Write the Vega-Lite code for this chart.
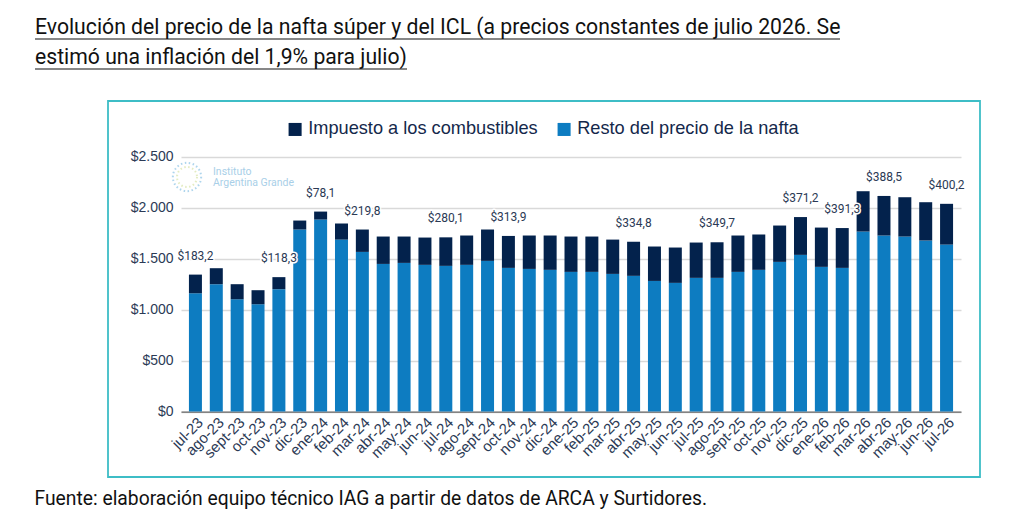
{"$schema":"https://vega.github.io/schema/vega-lite/v6.json","width":780,"height":254.6,"autosize":{"type":"none"},"padding":{"left":181,"top":157,"right":48,"bottom":107},"background":"#ffffff",
"title":{"text":["Evolución del precio de la nafta súper y del ICL (a precios constantes de julio 2026. Se","estimó una inflación del 1,9% para julio)"],"anchor":"start","frame":"group","dx":-146,"dy":63,"offset":33,"font":"Roboto","fontSize":21.2,"fontWeight":400,"color":"#111111","lineHeight":30},
"datasets":{
"barras":[
{"mes":"jul-23","serie":"Resto del precio de la nafta","valor":1162,"orden":1},{"mes":"jul-23","serie":"Impuesto a los combustibles","valor":183.2,"orden":2},
{"mes":"ago-23","serie":"Resto del precio de la nafta","valor":1251,"orden":1},{"mes":"ago-23","serie":"Impuesto a los combustibles","valor":157,"orden":2},
{"mes":"sept-23","serie":"Resto del precio de la nafta","valor":1103,"orden":1},{"mes":"sept-23","serie":"Impuesto a los combustibles","valor":148,"orden":2},
{"mes":"oct-23","serie":"Resto del precio de la nafta","valor":1054,"orden":1},{"mes":"oct-23","serie":"Impuesto a los combustibles","valor":138,"orden":2},
{"mes":"nov-23","serie":"Resto del precio de la nafta","valor":1202,"orden":1},{"mes":"nov-23","serie":"Impuesto a los combustibles","valor":118.3,"orden":2},
{"mes":"dic-23","serie":"Resto del precio de la nafta","valor":1788,"orden":1},{"mes":"dic-23","serie":"Impuesto a los combustibles","valor":88,"orden":2},
{"mes":"ene-24","serie":"Resto del precio de la nafta","valor":1886,"orden":1},{"mes":"ene-24","serie":"Impuesto a los combustibles","valor":78.1,"orden":2},
{"mes":"feb-24","serie":"Resto del precio de la nafta","valor":1689,"orden":1},{"mes":"feb-24","serie":"Impuesto a los combustibles","valor":158,"orden":2},
{"mes":"mar-24","serie":"Resto del precio de la nafta","valor":1568,"orden":1},{"mes":"mar-24","serie":"Impuesto a los combustibles","valor":219.8,"orden":2},
{"mes":"abr-24","serie":"Resto del precio de la nafta","valor":1450,"orden":1},{"mes":"abr-24","serie":"Impuesto a los combustibles","valor":269,"orden":2},
{"mes":"may-24","serie":"Resto del precio de la nafta","valor":1460,"orden":1},{"mes":"may-24","serie":"Impuesto a los combustibles","valor":259,"orden":2},
{"mes":"jun-24","serie":"Resto del precio de la nafta","valor":1441,"orden":1},{"mes":"jun-24","serie":"Impuesto a los combustibles","valor":268,"orden":2},
{"mes":"jul-24","serie":"Resto del precio de la nafta","valor":1431,"orden":1},{"mes":"jul-24","serie":"Impuesto a los combustibles","valor":280.1,"orden":2},
{"mes":"ago-24","serie":"Resto del precio de la nafta","valor":1441,"orden":1},{"mes":"ago-24","serie":"Impuesto a los combustibles","valor":288,"orden":2},
{"mes":"sept-24","serie":"Resto del precio de la nafta","valor":1480,"orden":1},{"mes":"sept-24","serie":"Impuesto a los combustibles","valor":308,"orden":2},
{"mes":"oct-24","serie":"Resto del precio de la nafta","valor":1411,"orden":1},{"mes":"oct-24","serie":"Impuesto a los combustibles","valor":313.9,"orden":2},
{"mes":"nov-24","serie":"Resto del precio de la nafta","valor":1401,"orden":1},{"mes":"nov-24","serie":"Impuesto a los combustibles","valor":328,"orden":2},
{"mes":"dic-24","serie":"Resto del precio de la nafta","valor":1392,"orden":1},{"mes":"dic-24","serie":"Impuesto a los combustibles","valor":337,"orden":2},
{"mes":"ene-25","serie":"Resto del precio de la nafta","valor":1372,"orden":1},{"mes":"ene-25","serie":"Impuesto a los combustibles","valor":347,"orden":2},
{"mes":"feb-25","serie":"Resto del precio de la nafta","valor":1372,"orden":1},{"mes":"feb-25","serie":"Impuesto a los combustibles","valor":347,"orden":2},
{"mes":"mar-25","serie":"Resto del precio de la nafta","valor":1352,"orden":1},{"mes":"mar-25","serie":"Impuesto a los combustibles","valor":337,"orden":2},
{"mes":"abr-25","serie":"Resto del precio de la nafta","valor":1333,"orden":1},{"mes":"abr-25","serie":"Impuesto a los combustibles","valor":334.8,"orden":2},
{"mes":"may-25","serie":"Resto del precio de la nafta","valor":1283,"orden":1},{"mes":"may-25","serie":"Impuesto a los combustibles","valor":338,"orden":2},
{"mes":"jun-25","serie":"Resto del precio de la nafta","valor":1264,"orden":1},{"mes":"jun-25","serie":"Impuesto a los combustibles","valor":347,"orden":2},
{"mes":"jul-25","serie":"Resto del precio de la nafta","valor":1313,"orden":1},{"mes":"jul-25","serie":"Impuesto a los combustibles","valor":347,"orden":2},
{"mes":"ago-25","serie":"Resto del precio de la nafta","valor":1313,"orden":1},{"mes":"ago-25","serie":"Impuesto a los combustibles","valor":349.7,"orden":2},
{"mes":"sept-25","serie":"Resto del precio de la nafta","valor":1372,"orden":1},{"mes":"sept-25","serie":"Impuesto a los combustibles","valor":357,"orden":2},
{"mes":"oct-25","serie":"Resto del precio de la nafta","valor":1392,"orden":1},{"mes":"oct-25","serie":"Impuesto a los combustibles","valor":347,"orden":2},
{"mes":"nov-25","serie":"Resto del precio de la nafta","valor":1470,"orden":1},{"mes":"nov-25","serie":"Impuesto a los combustibles","valor":357,"orden":2},
{"mes":"dic-25","serie":"Resto del precio de la nafta","valor":1539,"orden":1},{"mes":"dic-25","serie":"Impuesto a los combustibles","valor":371.2,"orden":2},
{"mes":"ene-26","serie":"Resto del precio de la nafta","valor":1421,"orden":1},{"mes":"ene-26","serie":"Impuesto a los combustibles","valor":386,"orden":2},
{"mes":"feb-26","serie":"Resto del precio de la nafta","valor":1411,"orden":1},{"mes":"feb-26","serie":"Impuesto a los combustibles","valor":391.3,"orden":2},
{"mes":"mar-26","serie":"Resto del precio de la nafta","valor":1768,"orden":1},{"mes":"mar-26","serie":"Impuesto a los combustibles","valor":396,"orden":2},
{"mes":"abr-26","serie":"Resto del precio de la nafta","valor":1729,"orden":1},{"mes":"abr-26","serie":"Impuesto a los combustibles","valor":388.5,"orden":2},
{"mes":"may-26","serie":"Resto del precio de la nafta","valor":1719,"orden":1},{"mes":"may-26","serie":"Impuesto a los combustibles","valor":386,"orden":2},
{"mes":"jun-26","serie":"Resto del precio de la nafta","valor":1680,"orden":1},{"mes":"jun-26","serie":"Impuesto a los combustibles","valor":376,"orden":2},
{"mes":"jul-26","serie":"Resto del precio de la nafta","valor":1640,"orden":1},{"mes":"jul-26","serie":"Impuesto a los combustibles","valor":400.2,"orden":2}
],
"etiquetas":[
{"mes":"jul-23","total":1345.2,"etiqueta":"$183,2"},{"mes":"nov-23","total":1320.3,"etiqueta":"$118,3"},{"mes":"ene-24","total":1964.1,"etiqueta":"$78,1"},{"mes":"mar-24","total":1787.8,"etiqueta":"$219,8"},{"mes":"jul-24","total":1711.1,"etiqueta":"$280,1"},{"mes":"oct-24","total":1724.9,"etiqueta":"$313,9"},{"mes":"abr-25","total":1667.8,"etiqueta":"$334,8"},{"mes":"ago-25","total":1662.7,"etiqueta":"$349,7"},{"mes":"dic-25","total":1910.2,"etiqueta":"$371,2"},{"mes":"feb-26","total":1802.3,"etiqueta":"$391,3"},{"mes":"abr-26","total":2117.5,"etiqueta":"$388,5"},{"mes":"jul-26","total":2040.2,"etiqueta":"$400,2"}
],
"nota":[{"logo":"Instituto"}]
},
"layer":[
{"data":{"name":"nota"},"mark":{"type":"rect","fill":null,"stroke":"#3dbdc6","strokeWidth":1.8},"encoding":{"x":{"value":-73},"x2":{"value":799},"y":{"value":-56},"y2":{"value":320}}},
{"data":{"name":"barras"},"mark":{"type":"bar"},
"encoding":{
"x":{"field":"mes","type":"nominal","sort":null,"scale":{"paddingInner":0.377,"paddingOuter":0.38},
"axis":{"title":"Fuente: elaboración equipo técnico IAG a partir de datos de ARCA y Surtidores.","titleFont":"Roboto","titleFontSize":19.3,"titleFontWeight":400,"titleColor":"#111111","titleAnchor":"start","titleAlign":"left","titleBaseline":"middle","titleX":-147,"titleY":87,"labelAngle":-45,"labelFont":"Liberation Sans","labelFontSize":15,"labelColor":"#2b3a55","labelPadding":3,"ticks":false,"domainColor":"#666666","domainWidth":1.2,"labelOverlap":false}},
"y":{"field":"valor","type":"quantitative","stack":"zero","scale":{"domain":[0,2500],"nice":false},
"axis":{"title":null,"values":[0,500,1000,1500,2000,2500],"labelExpr":"'$' + replace(format(datum.value, ',.0f'), ',', '.')","labelFont":"Liberation Sans","labelFontSize":14,"labelColor":"#2b3a55","labelPadding":8,"ticks":false,"domain":false,"grid":true,"gridColor":"#d9d9d9","gridWidth":1.4}},
"color":{"field":"serie","type":"nominal","scale":{"domain":["Impuesto a los combustibles","Resto del precio de la nafta"],"range":["#03224c","#0d7cc1"]},
"legend":{"title":null,"orient":"none","legendX":105,"legendY":-37,"direction":"horizontal","symbolType":"square","symbolSize":170,"symbolStrokeWidth":0,"labelFont":"Liberation Sans","labelFontSize":18.2,"labelColor":"#14284b","labelLimit":300,"columnPadding":17,"labelOffset":4}},
"order":{"field":"orden","type":"quantitative"}
}},
{"data":{"name":"etiquetas"},"mark":{"type":"text","font":"Roboto","fontSize":12,"dy":-19,"baseline":"middle","align":"center","stroke":"#ffffff","strokeWidth":3,"strokeJoin":"round"},"encoding":{"x":{"field":"mes","type":"nominal","sort":null},"y":{"field":"total","type":"quantitative"},"text":{"field":"etiqueta"}}},
{"data":{"name":"etiquetas"},"mark":{"type":"text","font":"Roboto","fontSize":12,"dy":-19,"baseline":"middle","align":"center","fill":"#2b3a55"},"encoding":{"x":{"field":"mes","type":"nominal","sort":null},"y":{"field":"total","type":"quantitative"},"text":{"field":"etiqueta"}}},
{"data":{"name":"nota"},"mark":{"type":"text","font":"Roboto","fontSize":10.5,"align":"left","baseline":"middle","fill":"#a9cfe8","text":["Instituto","Argentina Grande"],"lineHeight":11},"encoding":{"x":{"value":32},"y":{"value":15}}},
{"data":{"name":"nota"},"mark":{"type":"point","shape":"circle","size":800,"filled":false,"stroke":"#8cc4e6","strokeWidth":2,"strokeDash":[1.5,2.5]},"encoding":{"x":{"value":6},"y":{"value":20}}},
{"data":{"name":"nota"},"mark":{"type":"point","shape":"circle","size":400,"filled":false,"stroke":"#d8e4a8","strokeWidth":2,"strokeDash":[1.5,2.5]},"encoding":{"x":{"value":6},"y":{"value":20}}},
{"data":{"name":"nota"},"mark":{"type":"rule","stroke":"#111111","strokeWidth":1.2},"encoding":{"x":{"value":-146},"x2":{"value":659},"y":{"value":-118}}},
{"data":{"name":"nota"},"mark":{"type":"rule","stroke":"#111111","strokeWidth":1.2},"encoding":{"x":{"value":-146},"x2":{"value":226},"y":{"value":-88}}}
],
"config":{"view":{"stroke":null}}}
